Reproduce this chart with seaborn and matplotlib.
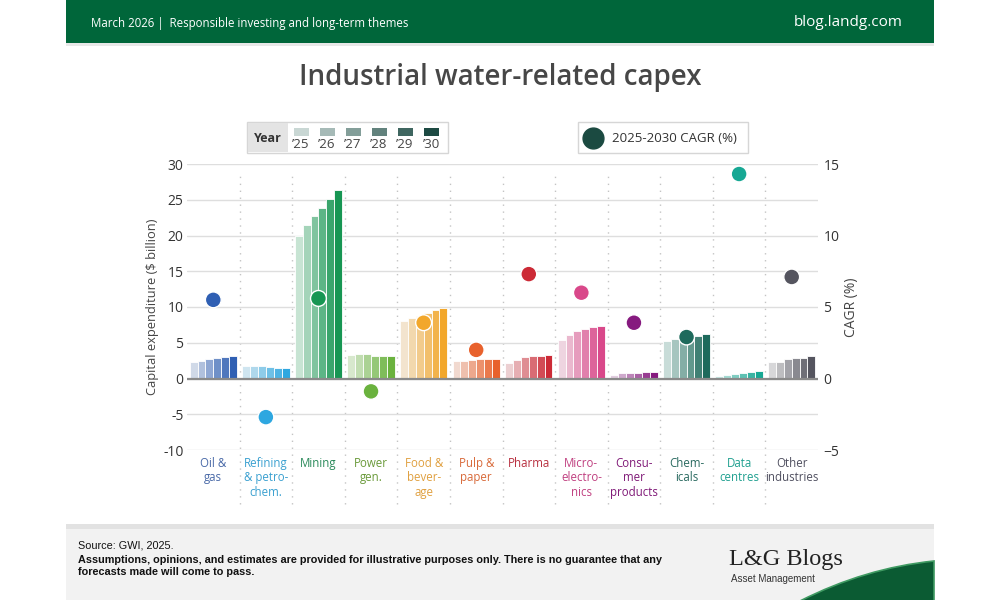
import numpy as np
import pandas as pd
import seaborn as sns
import matplotlib.pyplot as plt
from matplotlib.patches import Rectangle, PathPatch
from matplotlib.path import Path
from matplotlib.lines import Line2D

# sectors, in chart order
sectors = ["Oil & gas", "Refining & petrochem.", "Mining", "Power gen.", "Food & beverage",
           "Pulp & paper", "Pharma", "Microelectronics", "Consumer products", "Chemicals",
           "Data centres", "Other industries"]
tick_labels = ["Oil &\ngas", "Refining\n& petro-\nchem.", "Mining", "Power\ngen.", "Food &\nbever-\nage",
               "Pulp &\npaper", "Pharma", "Micro-\nelectro-\nnics", "Consu-\nmer\nproducts", "Chem-\nicals",
               "Data\ncentres", "Other\nindustries"]
years = ["2025", "2026", "2027", "2028", "2029", "2030"]
year_labels = ["\u201925", "\u201926", "\u201927", "\u201928", "\u201929", "\u201930"]

# capital expenditure, $ billion, per year
capex_2025 = [2.3, 1.7, 19.9, 3.3, 8.0, 2.4, 2.2, 5.4, 0.55, 5.3, 0.30, 2.25]
capex_2026 = [2.4, 1.7, 21.4, 3.4, 8.4, 2.5, 2.6, 6.1, 0.70, 5.5, 0.45, 2.35]
capex_2027 = [2.7, 1.7, 22.7, 3.4, 8.8, 2.6, 2.95, 6.7, 0.75, 5.7, 0.60, 2.7]
capex_2028 = [2.9, 1.6, 23.9, 3.2, 9.2, 2.7, 3.2, 6.9, 0.80, 5.8, 0.75, 2.85]
capex_2029 = [3.0, 1.5, 25.1, 3.2, 9.55, 2.7, 3.2, 7.2, 0.85, 6.0, 0.95, 2.9]
capex_2030 = [3.2, 1.45, 26.4, 3.2, 9.9, 2.7, 3.3, 7.3, 0.85, 6.2, 1.05, 3.2]

# 2025-2030 CAGR, %
cagr = [5.5, -2.7, 5.6, -0.9, 3.9, 2.0, 7.3, 6.0, 3.9, 2.9, 14.3, 7.1]

base_colors = ["#2f5fb3", "#2ea7e0", "#179653", "#6ab23e", "#f2a72b", "#e8612c",
               "#cc2a36", "#d9488a", "#861a7f", "#1e6a5c", "#17a894", "#55555f"]
label_colors = ["#4a6aa8", "#3aa0d0", "#2a8a5a", "#6a9a3a", "#e0a040", "#d86a3a",
                "#b83040", "#c04080", "#801a78", "#2a6a60", "#20a090", "#505060"]

capex_all = [capex_2025, capex_2026, capex_2027, capex_2028, capex_2029, capex_2030]
df = pd.DataFrame({
    "sector": np.tile(sectors, len(years)),
    "year": np.repeat(years, len(sectors)),
    "capex": np.concatenate(capex_all),
})

sns.set_style("white")
plt.rcParams["font.family"] = ["Open Sans", "DejaVu Sans"]

fig = plt.figure(figsize=(10, 6), dpi=100)


def fx(x):
    return x / 1000


def fy(y):
    return 1 - y / 600


def box(x0, y0, x1, y1, **kw):
    fig.add_artist(Rectangle((fx(x0), fy(y1)), (x1 - x0) / 1000, (y1 - y0) / 600,
                             transform=fig.transFigure, **kw))


# header band
box(66, 0, 934, 43, color="#00663a", lw=0)
box(66, 43, 934, 46, color="#e8e8e8", lw=0)
fig.text(fx(91), fy(24), "March 2026 |  Responsible investing and long-term themes",
         color="white", fontsize=8.3, va="center", ha="left")
fig.text(fx(903), fy(22), "blog.landg.com", color="white", fontsize=11, va="center", ha="right")

# title
fig.text(0.5, fy(78), "Industrial water-related capex", ha="center", va="center",
         fontsize=20, fontweight="semibold", color="#474747")

# footer band
box(66, 524, 934, 600, color="#f2f2f2", lw=0)
box(66, 524, 934, 529, color="#e2e2e2", lw=0)
fig.text(fx(78), fy(546), "Source: GWI, 2025.", fontsize=7.8, va="center",
         family="Liberation Sans", color="#111")
fig.text(fx(78), fy(566),
         "Assumptions, opinions, and estimates are provided for illustrative purposes only. There is no guarantee that any\n"
         "forecasts made will come to pass.",
         fontsize=7.8, va="center", fontweight="bold", family="Liberation Sans", color="#111",
         linespacing=1.2)
fig.text(fx(729), fy(559), "L&G Blogs", fontsize=17.5, va="center", family="Liberation Serif", color="#222")
fig.text(fx(731), fy(579), "Asset Management", fontsize=7, va="center", family="Liberation Sans", color="#333")
swoosh = Path([(fx(800), fy(601)), (fx(865), fy(568)), (fx(934), fy(561)),
               (fx(934), fy(601)), (fx(800), fy(601))],
              [Path.MOVETO, Path.CURVE3, Path.CURVE3, Path.LINETO, Path.CLOSEPOLY])
fig.add_artist(PathPatch(swoosh, transform=fig.transFigure, facecolor="#0b5b33",
                         edgecolor="#3f9a62", lw=1.2))

# main axes
ax = fig.add_axes([0.187, 0.25, 0.631, 286 / 600])
sns.barplot(data=df, x="sector", y="capex", hue="year", order=sectors, hue_order=years,
            width=0.9, legend=False, ax=ax)

shades = [sns.light_palette(c, n_colors=7)[1:] for c in base_colors]
for j, cont in enumerate(ax.containers):
    for i, bar in enumerate(cont):
        bar.set_facecolor(shades[i][j])
        bar.set_edgecolor("white")
        bar.set_linewidth(0.6)

ax.set_ylim(-10, 30)
ax.set_yticks(range(-10, 31, 5))
ax.set_yticklabels([str(v) for v in range(-10, 31, 5)])
ax.set_xlim(-0.5, len(sectors) - 0.5)
ax.set_xticks(range(len(sectors)))
ax.set_xticklabels(tick_labels, fontsize=8.3, linespacing=1.15, va="top")
for lab, c in zip(ax.get_xticklabels(), label_colors):
    lab.set_color(c)
ax.tick_params(axis="x", length=0, pad=5)
ax.tick_params(axis="y", length=0, pad=2.5, labelsize=10, labelcolor="#333")
ax.yaxis.grid(True, color="#dedede", lw=1)
ax.set_axisbelow(True)
ax.axhline(0, color="#8a8a8a", lw=1.6, zorder=3)
ax.vlines(np.arange(len(sectors) - 1) + 0.5, -17.5, 29, colors="#c4c4c4",
          linestyles=(0, (1, 4)), lw=1, clip_on=False, zorder=0)
ax.set_xlabel("")
ax.set_ylabel("Capital expenditure ($ billion)", fontsize=9.3, color="#444", labelpad=3)
for s in ax.spines.values():
    s.set_visible(False)

# CAGR on the right axis
ax2 = ax.twinx()
sns.scatterplot(x=np.arange(len(sectors)), y=cagr, hue=sectors, palette=base_colors,
                s=130, edgecolor="white", linewidth=1, legend=False, ax=ax2, zorder=5)
ax2.set_ylim(-5, 15)
ax2.set_yticks(range(-5, 16, 5))
ax2.tick_params(axis="y", length=0, pad=4, labelsize=10, labelcolor="#333")
ax2.set_ylabel("CAGR (%)", fontsize=10, color="#444", labelpad=3)
for s in ax2.spines.values():
    s.set_visible(False)

# Year legend
box(247, 122, 448, 153, facecolor="white", edgecolor="#d6d6d6", lw=1)
box(248, 123, 288, 152, color="#e4e4e4", lw=0)
fig.text(fx(268), fy(138), "Year", fontsize=9, fontweight="bold", color="#333", ha="center", va="center")
legend_shades = sns.light_palette("#1d4a43", n_colors=7)[1:]
for k, (lab, c) in enumerate(zip(year_labels, legend_shades)):
    x0 = 294 + k * 26
    box(x0, 128, x0 + 15, 136, color=c, lw=0)
    fig.text(fx(x0 + 7), fy(145), lab, fontsize=9.5, color="#444", ha="center", va="center")

# CAGR legend
box(578, 122, 748, 153, facecolor="white", edgecolor="#d6d6d6", lw=1)
fig.add_artist(Line2D([fx(593)], [fy(138)], marker="o", ms=15, color="#1b4a41",
                      transform=fig.transFigure))
fig.text(fx(612), fy(138), "2025-2030 CAGR (%)", fontsize=9.5, color="#333", va="center")

fig.savefig("out.png", dpi=100)
